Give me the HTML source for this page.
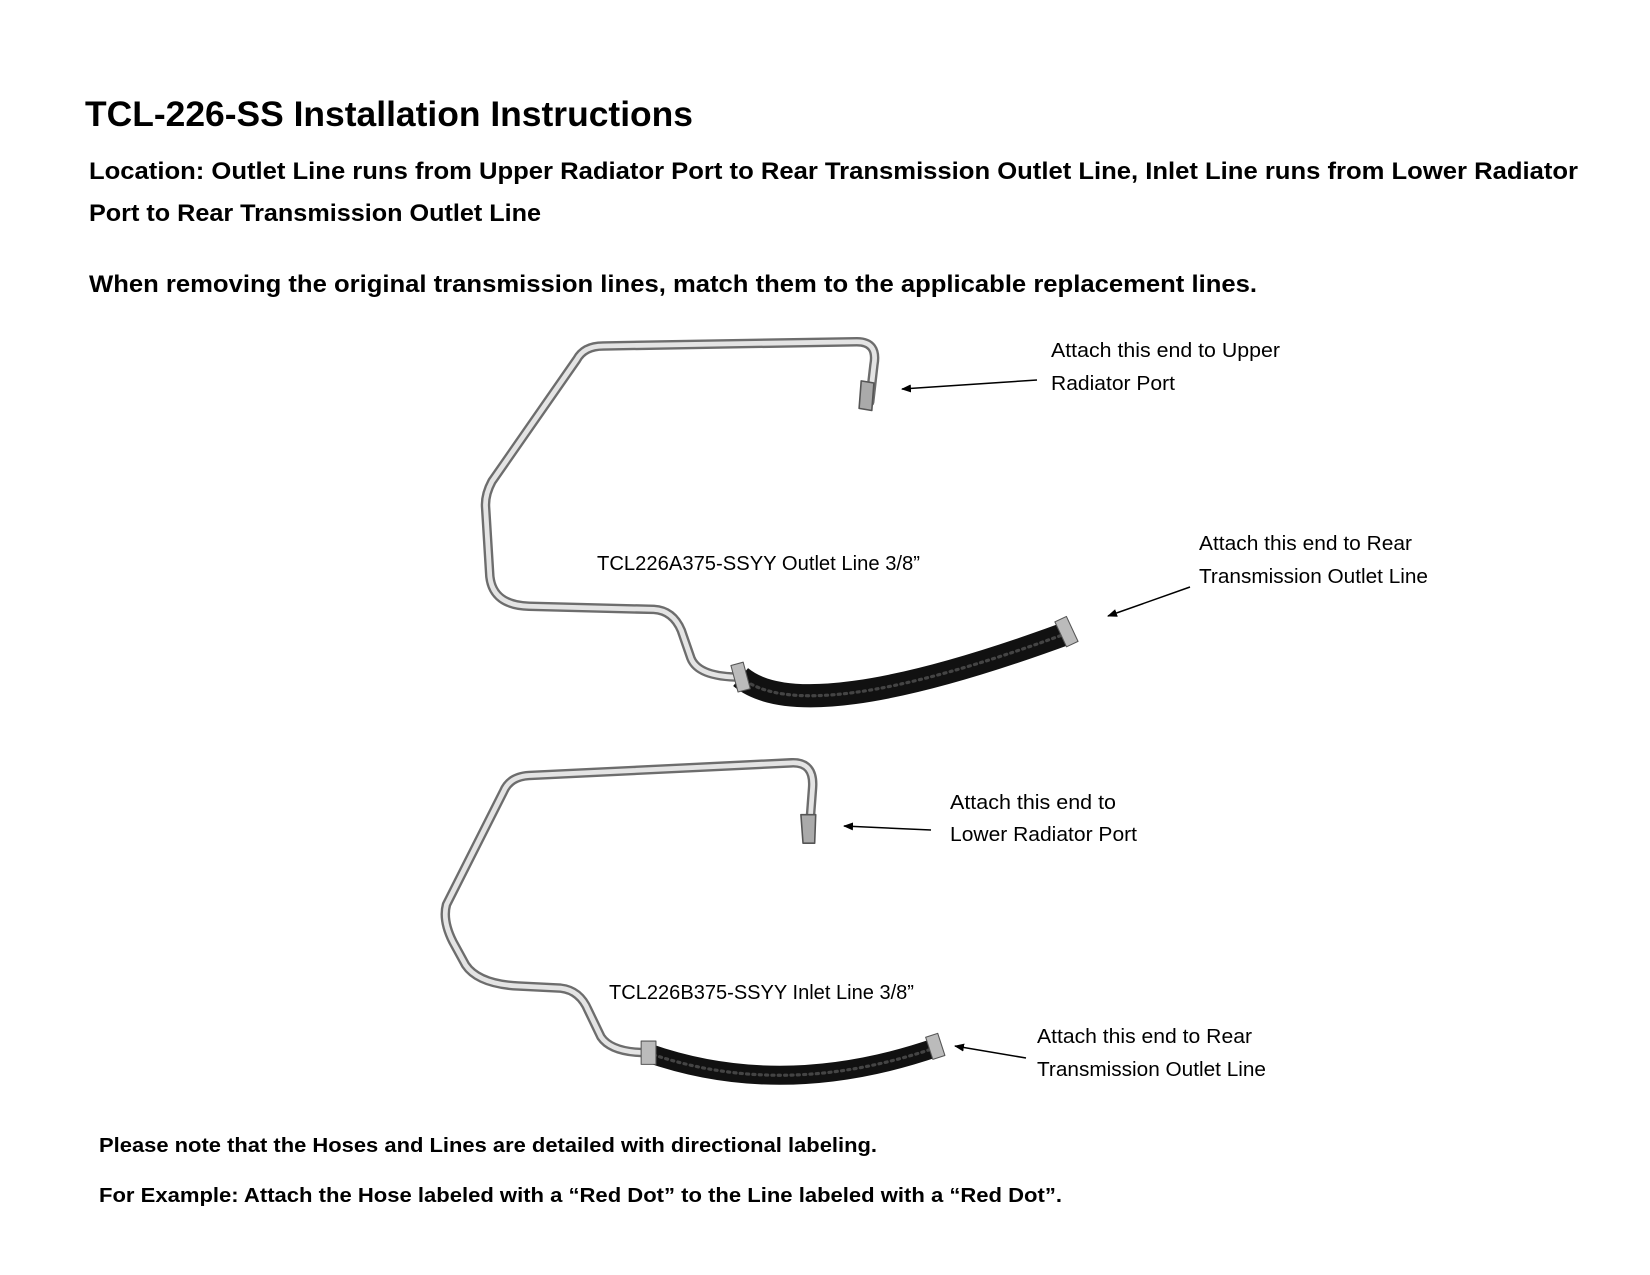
<!DOCTYPE html>
<html><head><meta charset="utf-8"><style>
html,body{margin:0;padding:0;background:#fff;}
svg{display:block;}
text{font-family:"Liberation Sans",sans-serif;fill:#000;}
.b{font-weight:bold;}
</style></head><body>
<svg width="1650" height="1275" viewBox="0 0 1650 1275" xmlns="http://www.w3.org/2000/svg">
<defs>
<marker id="ah" markerWidth="10" markerHeight="8" refX="9" refY="4" orient="auto" markerUnits="userSpaceOnUse">
<path d="M0,0 L10,4 L0,8 z" fill="#000"/></marker>
</defs>
<text class="b" x="85" y="126" font-size="35" textLength="608" lengthAdjust="spacingAndGlyphs">TCL-226-SS Installation Instructions</text>
<text class="b" x="89" y="179" font-size="24" textLength="1489" lengthAdjust="spacingAndGlyphs">Location: Outlet Line runs from Upper Radiator Port to Rear Transmission Outlet Line, Inlet Line runs from Lower Radiator</text>
<text class="b" x="89" y="221" font-size="24" textLength="452" lengthAdjust="spacingAndGlyphs">Port to Rear Transmission Outlet Line</text>
<text class="b" x="89" y="292" font-size="24" textLength="1168" lengthAdjust="spacingAndGlyphs">When removing the original transmission lines, match them to the applicable replacement lines.</text>

<text x="1051" y="357" font-size="20" textLength="229" lengthAdjust="spacingAndGlyphs">Attach this end to Upper</text>
<text x="1051" y="390" font-size="20" textLength="124" lengthAdjust="spacingAndGlyphs">Radiator Port</text>
<text x="597" y="570" font-size="20" textLength="323" lengthAdjust="spacingAndGlyphs">TCL226A375-SSYY Outlet Line 3/8”</text>
<text x="1199" y="550" font-size="20" textLength="213" lengthAdjust="spacingAndGlyphs">Attach this end to Rear</text>
<text x="1199" y="583" font-size="20" textLength="229" lengthAdjust="spacingAndGlyphs">Transmission Outlet Line</text>
<text x="950" y="809" font-size="20" textLength="166" lengthAdjust="spacingAndGlyphs">Attach this end to</text>
<text x="950" y="841" font-size="20" textLength="187" lengthAdjust="spacingAndGlyphs">Lower Radiator Port</text>
<text x="609" y="999" font-size="20" textLength="305" lengthAdjust="spacingAndGlyphs">TCL226B375-SSYY Inlet Line 3/8”</text>
<text x="1037" y="1043" font-size="20" textLength="215" lengthAdjust="spacingAndGlyphs">Attach this end to Rear</text>
<text x="1037" y="1076" font-size="20" textLength="229" lengthAdjust="spacingAndGlyphs">Transmission Outlet Line</text>
<text class="b" x="99" y="1152" font-size="20" textLength="778" lengthAdjust="spacingAndGlyphs">Please note that the Hoses and Lines are detailed with directional labeling.</text>
<text class="b" x="99" y="1202" font-size="20" textLength="963" lengthAdjust="spacingAndGlyphs">For Example: Attach the Hose labeled with a “Red Dot” to the Line labeled with a “Red Dot”.</text>

<g stroke="#000" stroke-width="1.5" fill="none" marker-end="url(#ah)">
<line x1="1037" y1="380" x2="902" y2="389"/>
<line x1="1190" y1="587" x2="1108" y2="616"/>
<line x1="931" y1="830" x2="844" y2="826"/>
<line x1="1026" y1="1058" x2="955" y2="1046"/>
</g>

<g transform="scale(1.058)" fill="none" stroke-linecap="round" stroke-linejoin="round">
<path d="M822,380 L826,345 Q830,323 810,323 L570,327 Q552,327 545,340 L465,455 Q458,468 459,480 L463,545 Q466,572 500,573 L618,576 Q636,577 644,596 L653,622 Q660,640 700,640" stroke="#6d6d6d" stroke-width="9"/>
<path d="M822,380 L826,345 Q830,323 810,323 L570,327 Q552,327 545,340 L465,455 Q458,468 459,480 L463,545 Q466,572 500,573 L618,576 Q636,577 644,596 L653,622 Q660,640 700,640" stroke="#e4e4e4" stroke-width="4.5"/>
<path d="M814,360 L826,362 L824,388 L812,386 z" fill="#aaa" stroke="#555" stroke-width="1.5"/>
<path d="M700,640 Q760,690 1010,598" stroke="#111" stroke-width="22" stroke-linecap="butt"/>
<path d="M700,640 Q760,690 1010,598" stroke="#444" stroke-width="3" stroke-dasharray="2 4"/>
<rect x="694" y="627" width="12" height="26" fill="#bbb" stroke="#555" transform="rotate(-15 700 640)"/>
<rect x="1002" y="584" width="12" height="26" fill="#bbb" stroke="#555" transform="rotate(-25 1008 597)"/>
<path d="M765,785 L768,745 Q770,720 748,721 L500,733 Q482,734 476,748 L422,855 Q418,870 428,890 L440,912 Q452,930 490,932 L530,934 Q548,936 556,955 L568,980 Q578,995 612,995" stroke="#6d6d6d" stroke-width="9"/>
<path d="M765,785 L768,745 Q770,720 748,721 L500,733 Q482,734 476,748 L422,855 Q418,870 428,890 L440,912 Q452,930 490,932 L530,934 Q548,936 556,955 L568,980 Q578,995 612,995" stroke="#e4e4e4" stroke-width="4.5"/>
<path d="M757,770 L771,770 L770,797 L759,797 z" fill="#aaa" stroke="#555" stroke-width="1.5"/>
<path d="M612,995 Q740,1040 885,990" stroke="#111" stroke-width="18" stroke-linecap="butt"/>
<path d="M612,995 Q740,1040 885,990" stroke="#444" stroke-width="3" stroke-dasharray="2 4"/>
<rect x="606" y="984" width="14" height="22" fill="#bbb" stroke="#555"/>
<rect x="878" y="978" width="12" height="22" fill="#bbb" stroke="#555" transform="rotate(-18 884 989)"/>
</g>
</svg>
</body></html>
